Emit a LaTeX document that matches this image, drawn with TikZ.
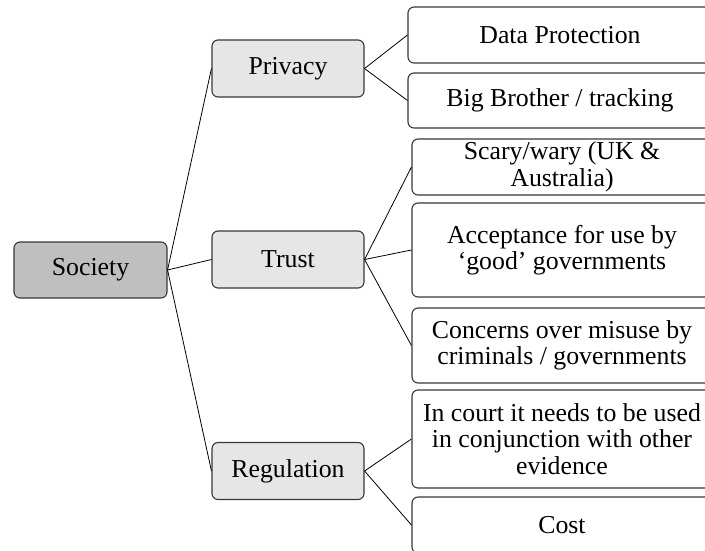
\documentclass[tikz,border=0pt]{standalone}
\usepackage{fontspec}
\setmainfont{Liberation Serif}
\definecolor{rootgray}{RGB}{191,191,191}
\definecolor{midgray}{RGB}{230,230,230}
\definecolor{edgegray}{RGB}{55,55,55}
\begin{document}
\begin{tikzpicture}[x=1pt,y=-1pt,
    box/.style={draw=edgegray, line width=1.1pt, rounded corners=6pt, align=center,
        inner sep=0pt, font=\fontsize{25.8}{26.5}\selectfont},
    rootbox/.style={box, fill=rootgray, minimum width=153pt, minimum height=56pt},
    midbox/.style={box, fill=midgray, minimum width=152pt, minimum height=57pt},
    leafbox/.style={box, fill=white, minimum width=300pt},
    link/.style={line width=0.8pt}]
                \useasboundingbox (0,0) rectangle (705,550);
                \clip (0,0) rectangle (705,550);
                % root and branches
                \node[rootbox] (soc) at (90.5,270) {Society};
                \node[midbox] (priv) at (288,68.5) {Privacy};
                \node[midbox] (trust) at (288,259.5) {Trust};
                \node[midbox] (reg) at (288,471) {Regulation};
                % leaves
                \node[leafbox, minimum width=304pt, minimum height=56pt] (data) at (560,35) {Data Protection};
                \node[leafbox, minimum width=304pt, minimum height=55pt] (big) at (560,100.5) {Big Brother / tracking};
                \node[leafbox, minimum height=56pt] (scary) at (562,167) {Scary/wary (UK \&\\Australia)};
                \node[leafbox, minimum height=94pt] (accept) at (562,250) {Acceptance for use by\\`good' governments};
                \node[leafbox, minimum height=75pt] (concern) at (562,345.5) {Concerns over misuse by\\criminals / governments};
                \node[leafbox, minimum height=98pt] (court) at (562,439) {In court it needs to be used\\in conjunction with other\\evidence};
                \node[leafbox, minimum height=56pt] (cost) at (562,525) {Cost};
                % connectors
                \draw[link] (soc.east) -- (priv.west);
                \draw[link] (soc.east) -- (trust.west);
                \draw[link] (soc.east) -- (reg.west);
                \draw[link] (priv.east) -- (data.west);
                \draw[link] (priv.east) -- (big.west);
                \draw[link] (trust.east) -- (scary.west);
                \draw[link] (trust.east) -- (accept.west);
                \draw[link] (trust.east) -- (concern.west);
                \draw[link] (reg.east) -- (court.west);
                \draw[link] (reg.east) -- (cost.west);
\end{tikzpicture}
\end{document}
